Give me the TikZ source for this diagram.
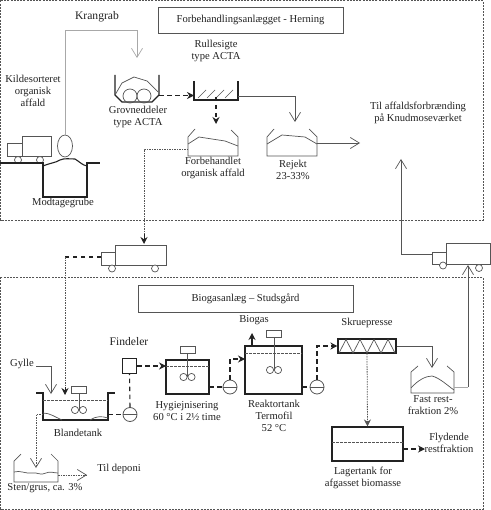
\documentclass[tikz,border=0pt]{standalone}
\usepackage{fontspec}
\setmainfont{Liberation Serif}
\usetikzlibrary{arrows.meta}
\definecolor{ink}{HTML}{222222}
\definecolor{soft}{HTML}{555555}
\definecolor{pale}{HTML}{A8A8A8}
\tikzset{
  x=1pt,y=-1pt,
  lbl/.style={inner sep=0pt,font=\fontsize{10.6}{12}\selectfont,text=ink,align=center},
  biglbl/.style={lbl,font=\fontsize{11.6}{13}\selectfont},
  frame/.style={draw=soft,line width=0.8pt,dash pattern=on 2pt off 1.2pt},
  titlebox/.style={draw=soft,line width=0.8pt,fill=white},
  thin line/.style={draw=soft,line width=0.7pt},
  pale line/.style={draw=pale,line width=0.9pt},
  wall/.style={draw=ink,line width=1.1pt},
  binwall/.style={draw=soft,line width=0.7pt},
  heavy dash/.style={draw=ink,line width=1.1pt,dash pattern=on 4.5pt off 3.5pt},
  dotline/.style={draw=soft,line width=1pt,dash pattern=on 1.5pt off 1pt},
  open tip/.style={-{Straight Barb[length=9pt,width=11pt,line width=0.7pt]}},
  solid tip/.style={-{Stealth[length=7pt,width=7pt]}},
  tank/.style={draw=ink,line width=1.1pt,fill=white,inner sep=0pt},
  pumpc/.style={circle,draw=soft,line width=0.8pt,minimum size=14pt,inner sep=0pt,fill=white},
  wheel/.style={circle,draw=soft,line width=0.7pt,minimum size=7pt,inner sep=0pt,fill=white},
  truckpart/.style={draw=soft,line width=0.8pt,fill=white},
  motorbox/.style={draw=soft,line width=0.7pt,fill=white},
  liquid/.style={draw=soft,line width=0.7pt,dash pattern=on 2.5pt off 1.5pt},
}
\newcommand{\mixer}[3]{% x, shaft top y, shaft bottom y
  \draw[motorbox] (#1-7.5,#2-7) rectangle (#1+7.5,#2);
  \draw[thin line] (#1,#2) -- (#1,#3);
  \draw[thin line] (#1-4,#3) circle (3.6);
  \draw[thin line] (#1+4,#3) circle (3.6);
}
\newcommand{\pumpline}[1]{\draw[thin line] (#1.west) -- (#1.east);}
\begin{document}
\begin{tikzpicture}
\useasboundingbox (0,0) rectangle (490,510);
% frames
\draw[frame] (0.5,0.5) rectangle (483,220);
\draw[frame] (0.5,277) rectangle (483,509);
\node[titlebox,minimum width=185pt,minimum height=26pt,lbl] (title1) at (250.5,20) {Forbehandlingsanlægget - Herning};
\node[titlebox,minimum width=215pt,minimum height=27pt,lbl] (title2) at (245.5,298.5) {Biogasanlæg – Studsgård};
% labels top
\node[biglbl] (tkrangrab) at (97,17) {Krangrab};
\node[lbl] (tkilde) at (33,90.5) {Kildesorteret\\organisk\\affald};
\node[lbl] (tmodt) at (63,203) {Modtagegrube};
\node[lbl] (tgrov) at (138,117) {Grovneddeler\\type ACTA};
\node[lbl] (trull) at (216,51) {Rullesigte\\type ACTA};
\node[lbl] (tforb) at (213,168) {Forbehandlet\\organisk affald};
\node[lbl] (trejekt) at (293,170) {Rejekt\\23-33\%};
\node[lbl] (ttil) at (418,113) {Til affaldsforbrænding\\på Knudmoseværket};
% labels bottom
\node[lbl] (tbiogas) at (254,320) {Biogas};
\node[biglbl] (tfind) at (129,342) {Findeler};
\node[lbl] (tgylle) at (22,364) {Gylle};
\node[lbl] (tbland) at (78,433) {Blandetank};
\node[lbl] (thyg) at (187,411.5) {Hygiejnisering\\60 °C i 2½ time};
\node[lbl] (treak) at (274,416) {Reaktortank\\Termofil\\52 °C};
\node[lbl] (tskrue) at (367,323) {Skruepresse};
\node[lbl] (tfast) at (433,405) {Fast rest-\\fraktion 2\%};
\node[lbl] (tlager) at (363,477.5) {Lagertank for\\afgasset biomasse};
\node[lbl] (tflyd) at (449,442.5) {Flydende\\restfraktion};
\node[lbl] (tsten) at (45,488.5) {Sten/grus, ca. 3\%};
\node[lbl] (tdep) at (119,469) {Til deponi};
% truck 1, pit
\draw[truckpart] (7.5,143) rectangle (22,156);
\draw[truckpart] (22,136) rectangle (51,156);
\node[wheel] (w1a) at (18,160) {};
\node[wheel] (w1b) at (40,160) {};
\draw[wall] (0,163) -- (43,163) -- (43,197) -- (87,197) -- (87,163) -- (100,163);
\draw[wall] (43,166) .. controls (50,163) and (55,163) .. (60,160) .. controls (64,158) and (70,159) .. (75,159) .. controls (80,162) and (82,165) .. (87,166);
\draw[thin line] (65,146) ellipse (7.5 and 11);
% Krangrab line
\coordinate (grabtop) at (65,135);
\coordinate (grabc1) at (65,30);
\coordinate (grabc2) at (137,30);
\coordinate (grabend) at (137,58);
\draw[pale line,open tip] (grabtop) -- (grabc1) -- (grabc2) -- (grabend);
% Grovneddeler
\draw[wall] (115,75) -- (115,95) -- (122,102) -- (152,102) -- (159,95) -- (159,75);
\draw[thin line] (130,96) circle (7);
\draw[thin line] (144,96) circle (7);
\draw[thin line] (115,95) -- (122,83) -- (134,77) -- (147,81) -- (158,92);
% Rullesigte
\draw[wall] (194,81) -- (194,100) -- (238,100) -- (238,81);
\foreach \hx in {198,207,216,225}
  \draw[thin line] (\hx,98) -- (\hx+8,90);
\coordinate (grovout) at (159,95.5);
\coordinate (rullin) at (194,95.5);
\draw[heavy dash,solid tip] (grovout) -- (rullin);
\coordinate (rullbot) at (216,97);
\coordinate (forbtop) at (216,124);
\draw[heavy dash,solid tip] (rullbot) -- (forbtop);
\coordinate (rullout) at (238,96);
\coordinate (rullc) at (295,96);
\coordinate (rejin) at (295,122);
\draw[thin line,open tip] (rullout) -- (rullc) -- (rejin);
% Forbehandlet bin
\draw[binwall] (195,129) -- (188,137) -- (188,156) -- (238,156) -- (238,137) -- (231,130);
\draw[binwall] (188,144) -- (199,137) -- (225,141) -- (238,146);
% Rejekt bin
\draw[binwall] (274,129) -- (267,137) -- (267,156) -- (317,156) -- (317,137) -- (309,129);
\draw[binwall] (267,144) -- (282,135) -- (305,137) -- (317,144);
\coordinate (rejout) at (317,143);
\coordinate (rejend) at (360,143);
\draw[thin line,open tip] (rejout) -- (rejend);
% forbehandlet to truck 2
\coordinate (forbout) at (188,149.5);
\coordinate (forbc) at (144,149.5);
\coordinate (truck2in) at (144,244);
\draw[dotline] (forbout) -- (forbc) -- (144,236);
\draw[draw=ink,line width=1pt,solid tip] (144,234) -- (truck2in);
% truck 2
\draw[truckpart] (101,252) rectangle (115,265);
\draw[truckpart] (115,245) rectangle (166,265);
\node[wheel] (w2a) at (112,268.5) {};
\node[wheel] (w2b) at (155,268.5) {};
% truck 3
\draw[truckpart] (432,252) rectangle (446,264.5);
\draw[truckpart] (446,243) rectangle (490,264.5);
\node[wheel] (w3a) at (443,265.5) {};
\node[wheel] (w3b) at (479,268) {};
% truck 2 to Blandetank
\coordinate (t2out) at (101,257);
\coordinate (t2c) at (65,257);
\coordinate (blin) at (65,395);
\draw[heavy dash] (t2out) -- (t2c);
\draw[dotline] (t2c) -- (65,388);
\draw[draw=ink,line width=1pt,solid tip] (65,387) -- (blin);
% truck 3 up
\coordinate (t3out) at (432,254);
\coordinate (t3c) at (401,254);
\coordinate (tilin) at (401,159);
\draw[thin line,open tip] (t3out) -- (t3c) -- (tilin);
% Gylle
\coordinate (gyl1) at (36,366);
\coordinate (gyl2) at (51,366);
\coordinate (gyl3) at (51,394);
\draw[thin line,open tip] (gyl1) -- (gyl2) -- (gyl3);
% Blandetank
\draw[wall] (36,393) -- (43,393) -- (43,420) -- (108,420) -- (108,393) -- (115,393);
\draw[liquid] (43,400) -- (108,400);
\mixer{79}{393}{410}
\draw[thin line] (43,413) .. controls (50,413) and (55,417) .. (62,420);
\draw[thin line] (90,420) .. controls (96,416) and (102,416) .. (108,418);
% pump 1
\node[pumpc] (p1) at (130,414.5) {};\pumpline{p1}
\node[tank,minimum size=14.5pt] (find) at (129.5,366) {};
\coordinate (blout) at (108,414.5);
\draw[heavy dash] (blout) -- (p1.west);
\draw[heavy dash] (p1.north) -- (find.south);
% Hygiejnisering
\node[tank,minimum width=43pt,minimum height=34pt] (hyg) at (187.5,377) {};
\draw[liquid] (166,366) -- (209,366);
\mixer{187.5}{353}{377}
\coordinate (hygin) at (166,366);
\draw[heavy dash,solid tip] (find.east) -- (hygin);
% pump 2
\node[pumpc] (p2) at (230,387) {};\pumpline{p2}
\coordinate (hygout) at (209,387);
\draw[heavy dash] (hygout) -- (p2.west);
% Reaktortank
\node[tank,minimum width=57pt,minimum height=48pt] (reak) at (273.5,370) {};
\draw[liquid] (245,353.5) -- (302,353.5);
\mixer{274}{337}{370}
\coordinate (p2c) at (230,359);
\coordinate (reakin) at (245,359);
\draw[heavy dash,solid tip] (p2.north) -- (p2c) -- (reakin);
\coordinate (bioa) at (252,346);
\coordinate (biob) at (252,333);
\draw[draw=ink,line width=1.1pt,solid tip] (bioa) -- (biob);
% pump 3
\node[pumpc] (p3) at (317,387) {};\pumpline{p3}
\coordinate (reakout) at (302,387);
\draw[heavy dash] (reakout) -- (p3.west);
% Skruepresse
\node[tank,minimum width=58pt,minimum height=14pt] (skrue) at (367,346) {};
\draw[thin line] (339,353) -- (346,339.5) -- (353,353) -- (360,339.5) -- (367,353) -- (374,339.5) -- (381,353) -- (388,339.5) -- (395,353);
\coordinate (p3c) at (317,346);
\draw[heavy dash,solid tip] (p3.north) -- (p3c) -- (skrue.west);
\coordinate (skc) at (432,346);
\coordinate (fastin) at (432,368);
\draw[thin line,open tip] (skrue.east) -- (skc) -- (fastin);
% Fast bin
\draw[binwall] (418,366) -- (411,372) -- (411,393) -- (454,393) -- (454,372) -- (447,366);
\draw[binwall] (411,388) .. controls (418,380) and (426,376) .. (432,376) .. controls (440,378) and (448,386) .. (454,390);
\coordinate (fastout) at (454,387);
\coordinate (fastc) at (468,387);
\coordinate (t3in) at (468,265);
\draw[pale line,line width=1pt] (fastout) -- (fastc);
\draw[thin line,line width=0.9pt,open tip] (fastc) -- (t3in);
% Lagertank
\node[tank,minimum width=71pt,minimum height=34pt] (lager) at (367.5,444) {};
\draw[liquid] (332,442) -- (403,442);
\draw[dotline,line width=0.8pt,solid tip] (skrue.south) -- (lager.north);
\coordinate (lagout) at (403,449);
\coordinate (flyd) at (425,449);
\draw[heavy dash,solid tip] (lagout) -- (flyd);
% Sten/grus
\draw[binwall] (21,454) -- (14,461) -- (14,482) -- (58,482) -- (58,461) -- (51,454);
\draw[binwall] (14,472) .. controls (20,470) and (26,474) .. (32,473) .. controls (38,472) and (40,476) .. (46,473) .. controls (50,471) and (54,473) .. (58,473);
\coordinate (bl2) at (43,414);
\coordinate (bl2c) at (36,414);
\coordinate (stin) at (36,468);
\draw[dotline,open tip] (bl2) -- (bl2c) -- (stin);
\coordinate (stout) at (58,475);
\coordinate (depo) at (87,475);
\draw[dotline,open tip] (stout) -- (depo);
\end{tikzpicture}
\end{document}
